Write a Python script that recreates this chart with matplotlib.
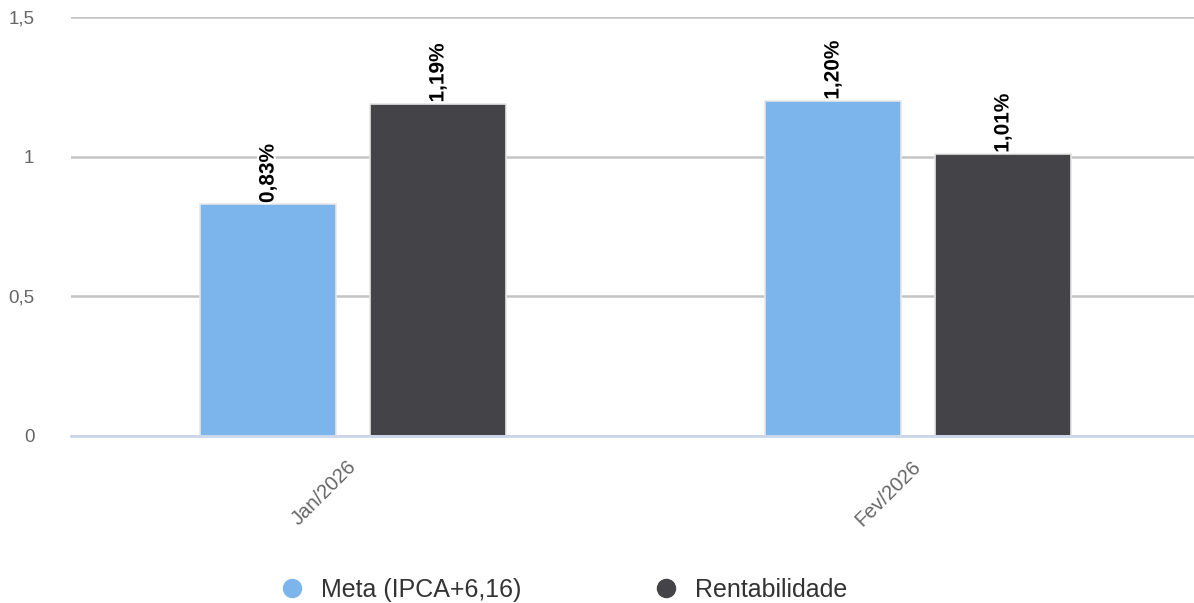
import matplotlib.pyplot as plt
import matplotlib.patheffects as pe
from matplotlib.lines import Line2D
import numpy as np

# dados do gráfico
categorias = ["Jan/2026", "Fev/2026"]
meta = [0.83, 1.20]
rentabilidade = [1.19, 1.01]
series_nomes = ["Meta (IPCA+6,16)", "Rentabilidade"]
cores = ["#7cb5ec", "#434348"]

plt.rcParams['font.family'] = ['Liberation Sans', 'DejaVu Sans']

fig = plt.figure(figsize=(11.94, 6.03), dpi=100)
# área do gráfico um pouco maior que a figura à direita (como no original)
ax = fig.add_axes([70.5 / 1194, 167 / 603, 1130 / 1194, 419 / 603])

x = np.arange(len(categorias))
larg = 0.241
desloc = 0.1504

for i, (vals, cor) in enumerate(zip([meta, rentabilidade], cores)):
    pos = x + (desloc if i else -desloc)
    bars = ax.bar(pos, vals, width=larg, color=cor, edgecolor="#e6e6e6",
                  linewidth=1.2, zorder=3, label=series_nomes[i])
    for b, v in zip(bars, vals):
        txt = ax.text(b.get_x() + b.get_width() / 2, v + 0.004,
                      f"{v:.2f}%".replace(".", ","), rotation=90,
                      ha="center", va="bottom", fontsize=15,
                      fontweight="bold", color="black", zorder=5)
        txt.set_path_effects([pe.withStroke(linewidth=3, foreground="white")])

ax.set_xlim(-0.5, 1.5)
ax.set_ylim(0, 1.5)
ax.set_yticks([0, 0.5, 1, 1.5])
ax.set_yticklabels(["0", "0,5", "1", "1,5"])
ax.grid(axis="y", color="#c4c4c4", linewidth=1.8, zorder=0)
ax.set_xticks(x)
ax.set_xticklabels(categorias, rotation=45, ha="right", va="center",
                   rotation_mode="anchor")

for s in ["top", "right", "left"]:
    ax.spines[s].set_visible(False)
ax.spines["bottom"].set_color("#ccd6eb")
ax.spines["bottom"].set_linewidth(2)
ax.spines["bottom"].set_zorder(4)

ax.tick_params(axis="y", length=0, pad=26, labelsize=13.5, labelcolor="#666666")
ax.tick_params(axis="x", length=0, pad=20, labelsize=14.5, labelcolor="#666666")

# legenda com marcadores circulares
marc = [Line2D([], [], marker="o", linestyle="", markersize=13, color=c) for c in cores]
fig.legend(marc, series_nomes, loc="lower center", bbox_to_anchor=(0.474, -0.035),
           ncol=2, frameon=False, fontsize=18, handlelength=0.6,
           handletextpad=0.86, columnspacing=5.5, labelcolor="#333333")

fig.savefig("out.png", dpi=100)
